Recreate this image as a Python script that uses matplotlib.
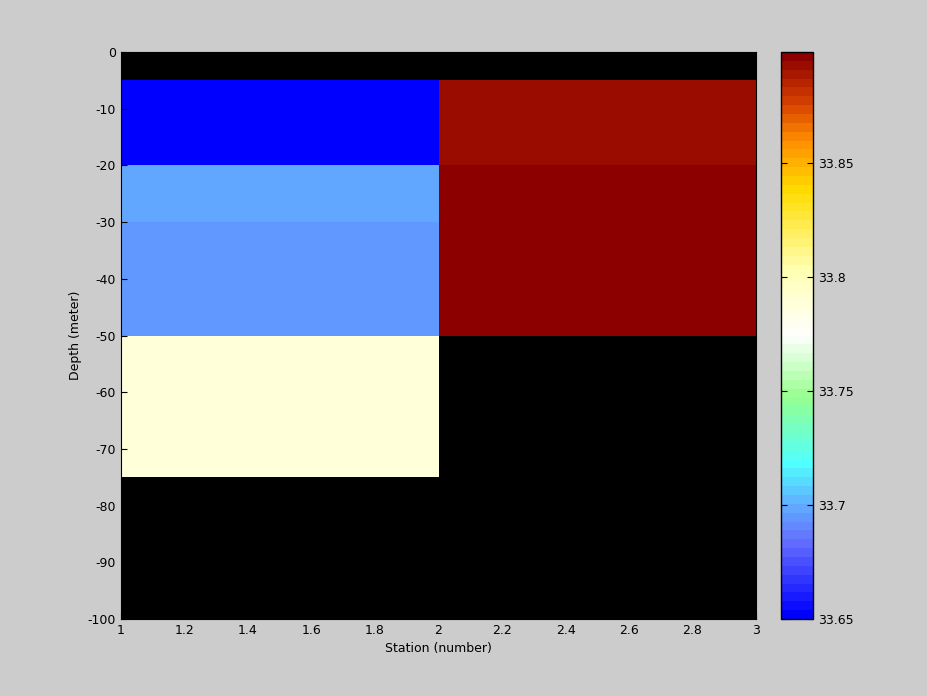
import numpy as np
import matplotlib
matplotlib.use('Agg')
import matplotlib.pyplot as plt
from matplotlib.colors import LinearSegmentedColormap

# cell edges
station_edges = [1, 2, 3]
depth_edges = [0, -5, -20, -30, -50, -75, -100]

# salinity per cell (rows = depth layers, cols = stations), nan = no data
salinity_st1 = [np.nan, 33.650, 33.700, 33.696, 33.787, np.nan]
salinity_st2 = [np.nan, 33.891, 33.896, 33.896, np.nan, np.nan]

cb_ticks = [33.65, 33.7, 33.75, 33.8, 33.85]
vmin, vmax = 33.65, 33.8987

cmap_stops = [
    (0.00, (0, 0, 255)),
    (0.13, (100, 110, 255)),
    (0.20, (96, 176, 255)),
    (0.27, (80, 255, 255)),
    (0.39, (150, 255, 140)),
    (0.50, (255, 255, 255)),
    (0.62, (255, 255, 175)),
    (0.76, (255, 220, 0)),
    (0.85, (255, 140, 0)),
    (0.92, (210, 60, 0)),
    (1.00, (140, 0, 0)),
]
cmap = LinearSegmentedColormap.from_list(
    'sal', [(p, tuple(c / 255 for c in rgb)) for p, rgb in cmap_stops], N=64)
cmap.set_bad('black')

bg = '#cccccc'
plt.rcParams['font.size'] = 9
plt.rcParams['axes.unicode_minus'] = False
fig = plt.figure(figsize=(9.28, 6.96), dpi=100, facecolor=bg)
ax = fig.add_axes([0.1304, 0.1106, 0.6843, 0.8147])
ax.set_facecolor('black')

data = np.ma.masked_invalid(np.column_stack([salinity_st1, salinity_st2]))
mesh = ax.pcolormesh(station_edges, depth_edges, data, cmap=cmap,
                     vmin=vmin, vmax=vmax)
ax.set_xlim(1, 3)
ax.set_ylim(-100, 0)
ax.set_xticks(np.arange(1, 3.01, 0.2))
ax.set_xticklabels(['1', '1.2', '1.4', '1.6', '1.8', '2', '2.2', '2.4', '2.6', '2.8', '3'])
ax.set_yticks(np.arange(-100, 1, 10))
ax.tick_params(direction='in', length=4, color='black')
ax.set_xlabel('Station (number)')
ax.set_ylabel('Depth (meter)')

cax = fig.add_axes([0.8416, 0.1106, 0.0345, 0.8147])
cb = fig.colorbar(mesh, cax=cax)
cb.set_ticks(cb_ticks)
cb.set_ticklabels(['33.65', '33.7', '33.75', '33.8', '33.85'])
cax.tick_params(direction='in', length=4, left=True, right=True,
                labelleft=False, labelright=True)
cb.outline.set_linewidth(1)

fig.savefig('out.png', facecolor=bg)
